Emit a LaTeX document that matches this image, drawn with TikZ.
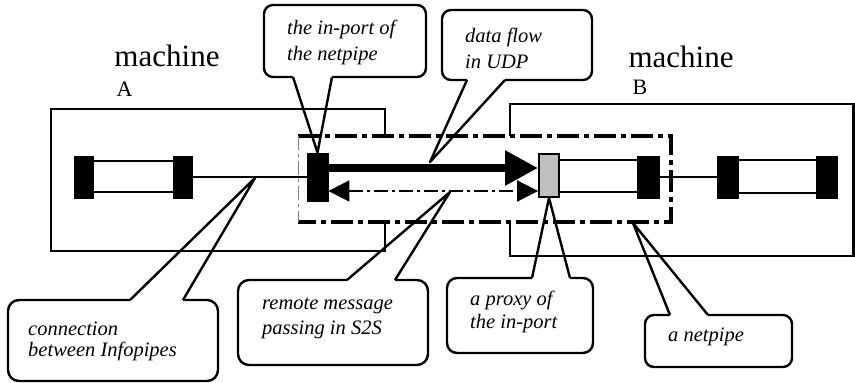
\documentclass[tikz,border=0pt]{standalone}
\usepackage{fontspec}
\setmainfont{Liberation Serif}
\usetikzlibrary{arrows.meta,calc}

\begin{document}
\begin{tikzpicture}[x=1pt,y=-1pt,
  block/.style={draw=black,fill=black,line width=0.8pt,minimum width=19pt,minimum height=42pt,inner sep=0pt},
  proxyblock/.style={draw=black,fill=black!25,line width=1.8pt,minimum width=18pt,minimum height=41pt,inner sep=0pt},
  pipeline/.style={line width=2pt},
  machinebox/.style={line width=2.3pt},
  netbox/.style={line width=3.2pt,dash pattern=on 22pt off 5pt on 5pt off 5pt},
  balloon/.style={line width=2.4pt,line join=round,fill=white},
  note/.style={font=\fontsize{20.5}{26}\selectfont\itshape,align=left,inner sep=0pt,anchor=west},
  bigtext/.style={font=\fontsize{31}{31}\selectfont,inner sep=0pt},
  lettertext/.style={font=\fontsize{22}{22}\selectfont,inner sep=0pt},
]
\useasboundingbox (0,0) rectangle (855,383);

% the two machines
\draw[machinebox] (51,109) rectangle (385,251);
\draw[machinebox] (510,104) rectangle (853.5,256);

% the netpipe region
\fill[white] (298,136) rectangle (671,222);
\draw[netbox] (298,136) -- (671,136) -- (671,222) -- (298,222);
\draw[gray,line width=0.6pt,dash pattern=on 14pt off 4pt on 3pt off 4pt] (298,136) -- (298,222);

% machine labels
\node[bigtext] (mA) at (167,56) {machine};
\node[lettertext] (lA) at (124.5,89) {A};
\node[bigtext] (mB) at (681,57) {machine};
\node[lettertext] (lB) at (640,87) {B};

% infopipes on machine A
\node[block] (a1) at (83.5,177) {};
\node[block] (a2) at (182.5,177) {};
\draw[pipeline] (a1.east |- 0,161) -- (a2.west |- 0,161);
\draw[pipeline] (a1.east |- 0,192) -- (a2.west |- 0,192);

% netpipe ends
\node[block,minimum width=21pt,minimum height=48pt] (inport) at (317.5,177) {};
\node[proxyblock,minimum width=20pt,minimum height=43pt] (proxy) at (549,175.5) {};
\node[block,minimum width=22pt] (b1) at (648,177) {};
\draw[pipeline] (a2.east) -- (inport.west);
\draw[pipeline] (proxy.east |- 0,160) -- (b1.west |- 0,160);
\draw[pipeline] (proxy.east |- 0,192) -- (b1.west |- 0,192);

% infopipe on machine B
\node[block,minimum width=21pt] (b2) at (727.5,177) {};
\node[block,minimum width=21pt] (b3) at (826.5,177) {};
\draw[pipeline] (b1.east) -- (b2.west);
\draw[pipeline] (b2.east |- 0,160) -- (b3.west |- 0,160);
\draw[pipeline] (b2.east |- 0,193) -- (b3.west |- 0,193);

% UDP data flow and S2S messages
\draw[line width=8.5pt,-{Triangle[length=33pt,width=33pt]}] (inport.east |- 0,168) -- (proxy.west |- 0,168);
\draw[line width=1.8pt,dash pattern=on 14pt off 4pt on 3pt off 4pt,
  {Triangle[length=21pt,width=21pt]}-{Triangle[length=21pt,width=21pt]}]
  (inport.east |- 0,191) -- (proxy.west |- 0,191);

% pointer targets
\coordinate (flowtip) at (430,162);
\coordinate (conntip) at (255,178);
\coordinate (s2stip) at (450,192);
\coordinate (nettip) at (633,223);

% balloon: in-port
\filldraw[balloon,rounded corners=9pt] (332,77) -- (426,77) -- (426,5) -- (264,5) -- (264,77) -- (293,77);
\draw[balloon,fill=none] (293,77) -- (inport.north) -- (332,77);
\node[note] (tInport) at (287,42.5) {the in-port of\\the netpipe};

% balloon: data flow
\filldraw[balloon,rounded corners=9pt] (505,80) -- (592,80) -- (592,10) -- (442,10) -- (442,80) -- (467,80);
\draw[balloon,fill=none] (467,80) -- (flowtip) -- (505,80);
\node[note] (tFlow) at (465,48) {data flow\\in UDP};

% balloon: connection
\filldraw[balloon,rounded corners=11pt] (183,300) -- (218,300) -- (218,381) -- (8,381) -- (8,300) -- (130,300);
\draw[balloon,fill=none] (130,300) -- (conntip) -- (183,300);
\node[note,font=\fontsize{20.5}{21}\selectfont\itshape] (tConn) at (28,341) {connection\\between Infopipes};

% balloon: remote messages
\filldraw[balloon,rounded corners=11pt] (395,280) -- (428,280) -- (428,365) -- (238,365) -- (238,280) -- (347,280);
\draw[balloon,fill=none] (347,280) -- (s2stip) -- (395,280);
\node[note,font=\fontsize{20.5}{25}\selectfont\itshape] (tS2S) at (262,318) {remote message\\passing in S2S};

% balloon: proxy
\filldraw[balloon,rounded corners=10pt] (570,278) -- (593,278) -- (593,353) -- (447,353) -- (447,278) -- (532,278);
\draw[balloon,fill=none] (532,278) -- (proxy.south) -- (570,278);
\node[note,font=\fontsize{20.5}{23}\selectfont\itshape] (tProxy) at (470,312) {a proxy of\\the in-port};

% balloon: netpipe
\filldraw[balloon,rounded corners=9pt] (708,315) -- (792,315) -- (792,367) -- (645,367) -- (645,315) -- (670,315);
\draw[balloon,fill=none] (670,315) -- (nettip) -- (708,315);
\node[note] (tNet) at (668,337) {a netpipe};
\end{tikzpicture}
\end{document}
